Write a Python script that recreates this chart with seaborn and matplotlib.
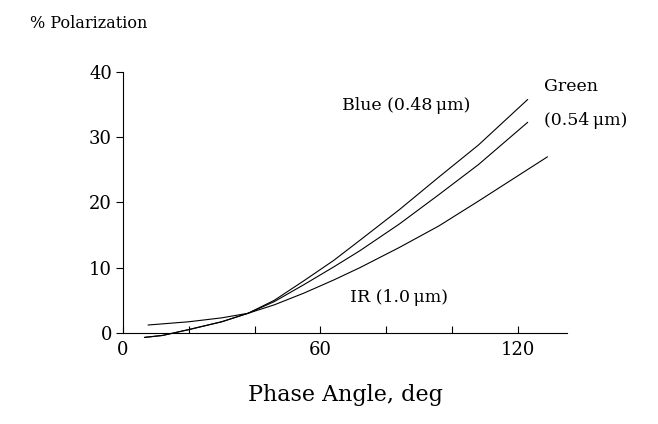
import pandas as pd
import seaborn as sns
import matplotlib.pyplot as plt

# curve points (phase angle deg, % polarization)
blue_x = [6.5, 12, 20, 30, 38, 46, 55, 64, 72, 84, 96, 108, 123]
blue_y = [-0.7, -0.4, 0.5, 1.7, 3.0, 5.0, 8.0, 11.1, 14.2, 18.9, 23.9, 28.8, 35.8]
green_x = [6.5, 12, 20, 30, 38, 46, 55, 64, 72, 84, 96, 108, 123]
green_y = [-0.7, -0.4, 0.5, 1.7, 3.0, 4.8, 7.4, 10.1, 12.6, 16.7, 21.2, 25.8, 32.3]
ir_x = [7.6, 20, 30, 38, 46, 55, 64, 72, 84, 96, 108, 129]
ir_y = [1.2, 1.7, 2.3, 3.0, 4.3, 6.1, 8.1, 10.0, 13.1, 16.4, 20.2, 27.0]

x_ticks = [0, 20, 40, 60, 80, 100, 120]
x_labels = ['0', '', '', '60', '', '', '120']
y_ticks = [0, 10, 20, 30, 40]

df = pd.concat([
    pd.DataFrame({'angle': blue_x, 'pol': blue_y, 'band': 'Blue'}),
    pd.DataFrame({'angle': green_x, 'pol': green_y, 'band': 'Green'}),
    pd.DataFrame({'angle': ir_x, 'pol': ir_y, 'band': 'IR'}),
])

sns.set_style('white')
plt.rcParams['font.family'] = ['DejaVu Serif']
plt.rcParams['text.color'] = 'black'
plt.rcParams['xtick.color'] = 'black'
plt.rcParams['ytick.color'] = 'black'
plt.rcParams['axes.labelcolor'] = 'black'

fig = plt.figure(figsize=(6.58, 4.24), dpi=100)
ax = fig.add_axes([0.187, 0.215, 0.675, 0.615])

sns.lineplot(data=df, x='angle', y='pol', hue='band', palette=['k', 'k', 'k'],
             estimator=None, sort=False, legend=False, linewidth=0.8, ax=ax)
for ln in ax.lines:
    ln.set_clip_on(False)

ax.set_xlim(0, 135)
ax.set_ylim(0, 40)
ax.set_xticks(x_ticks)
ax.set_xticklabels(x_labels)
ax.set_yticks(y_ticks)
ax.tick_params(axis='x', direction='in', length=5, width=0.8, labelsize=13, pad=6)
ax.tick_params(axis='y', direction='out', length=5, width=0.8, labelsize=13, pad=3)
ax.tick_params(bottom=True, left=True)
sns.despine(ax=ax)
for s in ['left', 'bottom']:
    ax.spines[s].set_linewidth(0.8)
    ax.spines[s].set_color('k')

ax.set_xlabel('Phase Angle, deg', fontsize=16, labelpad=18)
ax.set_ylabel('')
fig.text(0.045, 0.945, '% Polarization', fontsize=11.5, va='center', ha='left')

ax.text(86, 34.8, 'Blue (0.48\u2009\u03bcm)', fontsize=12.5, ha='center', va='center')
ax.text(128, 37.8, 'Green', fontsize=12.5, ha='left', va='center')
ax.text(128, 32.5, '(0.54\u2009\u03bcm)', fontsize=12.5, ha='left', va='center', clip_on=False)
ax.text(69, 5.4, 'IR (1.0\u2009\u03bcm)', fontsize=12.5, ha='left', va='center')

plt.savefig('out.png', dpi=100)
